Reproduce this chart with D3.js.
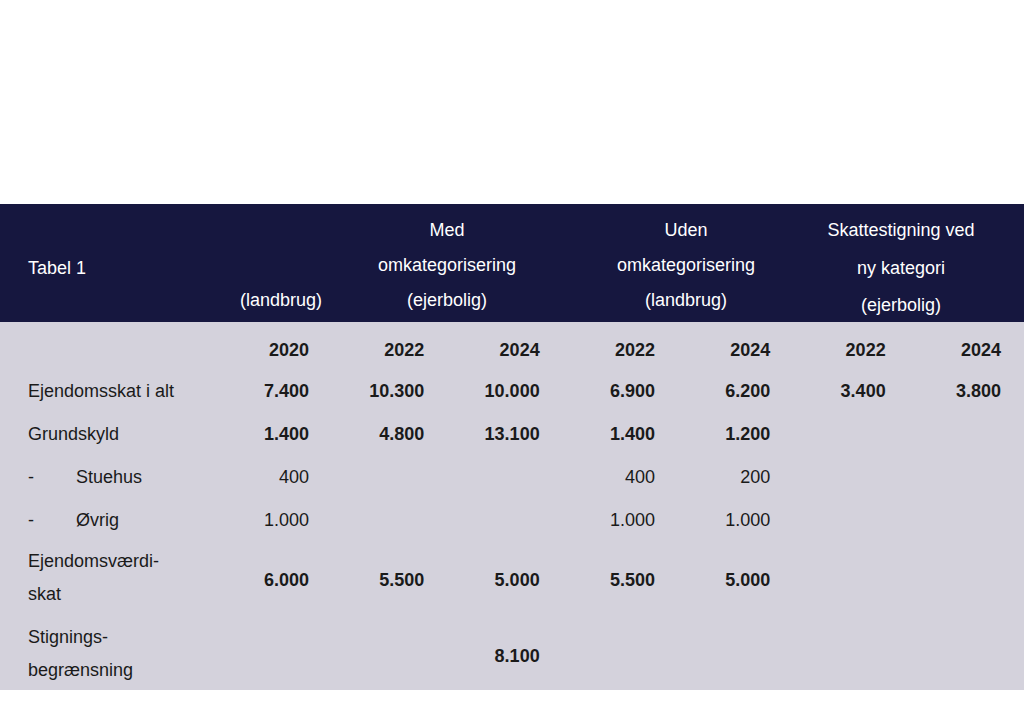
<!DOCTYPE html>
<html><head><meta charset="utf-8">
<script src="https://cdn.jsdelivr.net/npm/d3@7"></script>
<style>body{margin:0;background:#fff}svg{display:block}text{font-family:"Liberation Sans",Arial,sans-serif}</style>
</head><body><svg id="c" width="1024" height="720"></svg>
<script>
const title = "Tabel 1";
const groupHeaders = [
  {lines:["(landbrug)"], cols:[0]},
  {lines:["Med","omkategorisering","(ejerbolig)"], cols:[1,2]},
  {lines:["Uden","omkategorisering","(landbrug)"], cols:[3,4]},
  {lines:["Skattestigning ved","ny kategori","(ejerbolig)"], cols:[5,6]}
];
const years = ["2020","2022","2024","2022","2024","2022","2024"];
const rowLabels = [["Ejendomsskat i alt"],["Grundskyld"],["-","Stuehus"],["-","Øvrig"],["Ejendomsværdi-","skat"],["Stignings-","begrænsning"]];
const rowBold = [true,true,false,false,true,true];
const rowValues = [
  ["7.400","10.300","10.000","6.900","6.200","3.400","3.800"],
  ["1.400","4.800","13.100","1.400","1.200","",""],
  ["400","","","400","200","",""],
  ["1.000","","","1.000","1.000","",""],
  ["6.000","5.500","5.000","5.500","5.000","",""],
  ["","","8.100","","","",""]
];
const svg = d3.select("#c");
const colRight = d3.scaleLinear().domain([0,6]).range([309,1001]);
const groupCenter = d3.scaleOrdinal().domain(d3.range(4)).range([281,447,686,901]);
const rowY = d3.scaleOrdinal().domain(d3.range(6)).range([391,434,477,520,580,656]);
svg.append("rect").attr("x",0).attr("y",204).attr("width",1024).attr("height",118).attr("fill","#16173f");
svg.append("rect").attr("x",0).attr("y",322).attr("width",1024).attr("height",368).attr("fill","#d4d2dc");
svg.append("text").attr("x",28).attr("y",274).attr("fill","#fff").attr("font-size",18).text(title);
groupHeaders.forEach((g,i)=>{
  const cx = groupCenter(i);
  const ys = g.lines.length===1 ? [306] : (i===3?[236,274,311]:[236,271,306]);
  g.lines.forEach((l,j)=>svg.append("text").attr("x",cx).attr("y",ys[j]).attr("text-anchor","middle")
    .attr("fill","#fff").attr("font-size",18).text(l));
});
svg.selectAll("text.yr").data(years).join("text").attr("class","yr")
  .attr("x",(d,i)=>colRight(i)).attr("y",356).attr("text-anchor","end")
  .attr("font-weight","bold").attr("font-size",18).attr("fill","#1a1a1a").text(d=>d);
rowLabels.forEach((lab,r)=>{
  const y = rowY(r);
  if(lab[0]==="-"){
    svg.append("text").attr("x",28).attr("y",y+6).attr("font-size",18).attr("fill","#1a1a1a").text("-");
    svg.append("text").attr("x",76).attr("y",y+6).attr("font-size",18).attr("fill","#1a1a1a").text(lab[1]);
  } else if(lab.length===2){
    lab.forEach((l,j)=>svg.append("text").attr("x",28).attr("y",y-13+j*33).attr("font-size",18).attr("fill","#1a1a1a").text(l));
  } else {
    svg.append("text").attr("x",28).attr("y",y+6).attr("font-size",18).attr("fill","#1a1a1a").text(lab[0]);
  }
  svg.selectAll(null).data(rowValues[r]).join("text")
    .attr("x",(d,i)=>colRight(i)).attr("y",y+6).attr("text-anchor","end")
    .attr("font-size",18).attr("font-weight",rowBold[r]?"bold":"normal").attr("fill","#1a1a1a").text(d=>d);
});
</script></body></html>
